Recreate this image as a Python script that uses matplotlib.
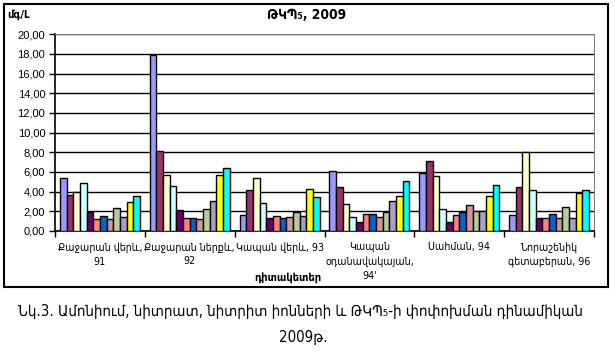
import numpy as np
import matplotlib.pyplot as plt
from matplotlib.patches import Rectangle

plt.rcParams['font.family'] = ['Liberation Sans', 'DejaVu Sans']

stations = ["Քաջարան վերև,\n91", "Քաջարան ներքև,\n92", "Կապան վերև, 93",
            "Կապան\nօդանավակայան,\n94'", "Սահման, 94", "Նորաշենիկ\nգետաբերան, 96"]

# 12 series per station
s01 = [5.4, 17.9, 1.6, 6.05, 5.9, 1.6]
s02 = [3.7, 8.1, 4.15, 4.45, 7.1, 4.45]
s03 = [3.95, 5.7, 5.35, 2.7, 5.55, 8.0]
s04 = [4.9, 4.6, 2.8, 1.38, 2.27, 4.15]
s05 = [1.95, 2.1, 1.3, 0.88, 0.88, 1.3]
s06 = [1.2, 1.3, 1.5, 1.7, 1.6, 1.3]
s07 = [1.5, 1.3, 1.3, 1.7, 1.93, 1.7]
s08 = [1.2, 1.2, 1.42, 1.42, 2.64, 1.32]
s09 = [2.37, 2.25, 1.97, 1.97, 2.0, 2.44]
s10 = [1.46, 3.0, 1.53, 3.05, 2.0, 1.32]
s11 = [2.95, 5.7, 4.24, 3.53, 3.53, 3.87]
s12 = [3.56, 6.4, 3.43, 5.05, 4.65, 4.14]
series = [s01, s02, s03, s04, s05, s06, s07, s08, s09, s10, s11, s12]

colors = ['#9999FF', '#993366', '#FFFFCC', '#CCFFFF', '#660066', '#FF8080',
          '#0066CC', '#D09898', '#B8CC98', '#A8A0C8', '#FFFF00', '#00FFFF']

arm = dict(family='DejaVu Sans', fontstretch='condensed')

fig = plt.figure(figsize=(6.15, 3.55), dpi=100)
ax = fig.add_axes([55/615, 1-231/355, 539/615, 196.7/355])

x = np.arange(len(stations))
w = 0.0743
for i, vals in enumerate(series):
    ax.bar(x + (i - 5.5)*w, vals, w, color=colors[i], edgecolor='black',
           linewidth=1.0, zorder=3)

ax.set_xlim(-0.5, 5.5)
ax.set_ylim(0, 20)
ax.set_yticks(np.arange(0, 21, 2))
ax.set_yticklabels([f"{v:.2f}".replace('.', ',') for v in np.arange(0, 21, 2)], fontsize=8)
ax.yaxis.grid(True, color='black', linewidth=1.0, zorder=0)

ax.set_xticks(np.arange(-0.5, 6, 1))
ax.set_xticklabels([])
ax.set_xticks(x, minor=True)
ax.set_xticklabels(stations, minor=True, fontsize=7.7, linespacing=1.45, va='top', **arm)
ax.tick_params(axis='x', which='minor', length=0, pad=8)
ax.tick_params(axis='x', which='major', length=4, width=1, direction='out')
ax.tick_params(axis='y', length=4, width=1, pad=3)

for side in ['top', 'right']:
    ax.spines[side].set_color('#808080')
for side in ['left', 'bottom']:
    ax.spines[side].set_color('black')
    ax.spines[side].set_linewidth(1.2)

fig.text(7/615, 1-15/355, "մգ/Լ", fontsize=8, fontweight='bold', va='center', **arm)
fig.text(307/615, 1-15/355, "ԹԿՊ₅, 2009", fontsize=9.8, fontweight='bold',
         ha='center', va='center', **arm)
fig.text(288/615, 1-278/355, "դիտակետեր", fontsize=8, fontweight='bold',
         ha='center', va='center', **arm)

fig.patches.append(Rectangle((4/615, 1-287/355), 604/615, 283/355,
                             transform=fig.transFigure, fill=False,
                             edgecolor='black', linewidth=1.5))

fig.text(300/615, 1-311/355,
         "Նկ.3. Ամոնիում, նիտրատ, նիտրիտ իոնների և ԹԿՊ₅-ի փոփոխման դինամիկան",
         fontsize=10.8, ha='center', va='center', **arm)
fig.text(303/615, 1-337/355, "2009թ.", fontsize=10.8, ha='center', va='center', **arm)

fig.savefig('out.png', dpi=100)
